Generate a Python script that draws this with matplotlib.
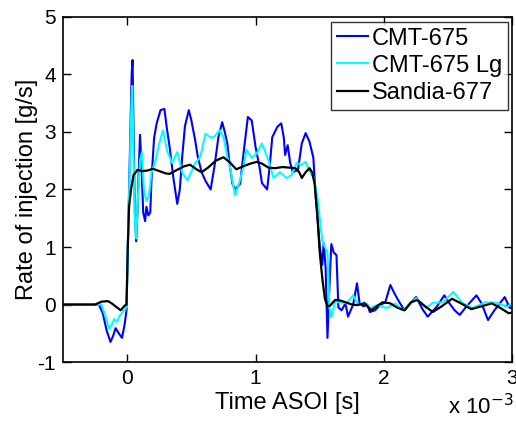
import matplotlib
matplotlib.use("Agg")
import matplotlib.pyplot as plt

plt.rcParams['font.family'] = ['Liberation Sans', 'DejaVu Sans']
plt.rcParams['axes.unicode_minus'] = False

# time in ms (axis shows seconds x 10^-3), rate in g/s
t_cmt = [-0.5, -0.22, -0.19, -0.16, -0.13, -0.11, -0.09, -0.065, -0.04, -0.02, -0.005,
         0.01, 0.025, 0.035, 0.042, 0.05, 0.06, 0.07, 0.08, 0.09, 0.10, 0.11, 0.125, 0.14,
         0.15, 0.165, 0.18, 0.19, 0.21, 0.23, 0.26, 0.29, 0.31, 0.33, 0.36, 0.39, 0.41, 0.43,
         0.45, 0.48, 0.50, 0.53, 0.55, 0.58, 0.61, 0.65, 0.68, 0.71, 0.74, 0.76, 0.78, 0.80,
         0.82, 0.84, 0.88, 0.91, 0.94, 0.97, 1.0, 1.03, 1.05, 1.09, 1.11, 1.13, 1.17, 1.20,
         1.22, 1.23, 1.25, 1.27, 1.29, 1.33, 1.36, 1.39, 1.42, 1.45, 1.47, 1.50, 1.52, 1.53,
         1.545, 1.56, 1.575, 1.59, 1.61, 1.63, 1.645, 1.67, 1.70, 1.72, 1.76, 1.79, 1.81, 1.84,
         1.87, 1.89, 1.93, 1.97, 2.01, 2.05, 2.08, 2.12, 2.16, 2.20, 2.25, 2.30, 2.34, 2.41,
         2.47, 2.51, 2.55, 2.59, 2.64, 2.72, 2.76, 2.81, 2.86, 2.94, 2.98, 3.0]
q_cmt = [0, 0, -0.15, -0.45, -0.65, -0.55, -0.41, -0.5, -0.58, -0.35, -0.1,
         1.5, 3.0, 4.0, 4.25, 3.0, 1.6, 1.1, 1.6, 2.3, 2.95, 2.5, 1.6, 1.45,
         1.7, 1.55, 1.6, 2.2, 2.9, 3.15, 3.38, 3.4, 3.05, 2.75, 2.2, 1.75, 2.0, 2.6,
         3.1, 3.38, 3.2, 2.85, 2.57, 2.3, 2.15, 2.0, 2.4, 2.9, 3.17, 3.0, 2.8, 2.4,
         2.1, 2.0, 2.1, 2.7, 3.26, 3.2, 2.74, 2.4, 2.11, 2.0, 2.4, 2.91, 3.09, 3.15,
         2.9, 2.6, 2.77, 2.46, 2.3, 2.34, 2.8, 2.98, 2.83, 2.55, 1.82, 1.0, 0.69, 1.07,
         0.66, -0.58, 0.3, 1.05, 0.9, 0.86, -0.05, -0.1, 0.02, -0.21, 0.0, 0.37, 0.02, -0.03,
         0.0, -0.13, -0.1, -0.01, 0.04, 0.34, 0.2, 0.04, -0.1, 0.0, 0.13, -0.08, -0.21, -0.04,
         0.16, 0.02, -0.1, -0.18, -0.04, 0.16, 0.02, -0.27, -0.1, 0.13, -0.06, -0.05]

t_lg = [-0.5, -0.2, -0.17, -0.14, -0.12, -0.10, -0.08, -0.06, -0.03, -0.005,
        0.01, 0.025, 0.035, 0.04, 0.05, 0.06, 0.07, 0.085, 0.10, 0.115, 0.13, 0.15, 0.17,
        0.19, 0.22, 0.25, 0.28, 0.31, 0.35, 0.39, 0.43, 0.47, 0.53, 0.57, 0.61, 0.65, 0.68,
        0.72, 0.75, 0.78, 0.80, 0.84, 0.87, 0.90, 0.93, 0.97, 1.01, 1.05, 1.1, 1.14, 1.19,
        1.24, 1.28, 1.32, 1.36, 1.39, 1.42, 1.45, 1.48, 1.50, 1.52, 1.54, 1.56, 1.575, 1.59,
        1.62, 1.66, 1.71, 1.76, 1.80, 1.85, 1.89, 1.95, 2.02, 2.09, 2.14, 2.2, 2.25, 2.33,
        2.38, 2.46, 2.54, 2.61, 2.69, 2.79, 2.88, 2.96, 3.0]
q_lg = [0, 0, -0.2, -0.42, -0.35, -0.25, -0.3, -0.2, -0.12, -0.05,
        1.5, 2.8, 3.6, 3.8, 2.6, 1.5, 1.15, 1.9, 2.5, 2.65, 2.0, 1.8, 1.9,
        2.3, 2.5, 2.8, 3.03, 2.68, 2.46, 2.65, 2.29, 2.16, 2.46, 2.57, 2.97, 2.9, 2.92,
        3.03, 2.91, 2.57, 2.4, 1.9, 2.1, 2.34, 2.69, 2.55, 2.63, 2.8, 2.51, 2.2, 2.3,
        2.2, 2.25, 2.46, 2.43, 2.48, 2.31, 2.22, 1.9, 1.5, 1.1, 1.0, 0.9, -0.05, -0.22,
        0.05, 0.04, 0.02, 0.16, -0.01, 0.04, -0.06, -0.01, -0.06, 0.02, -0.1, -0.01, 0.11, -0.06,
        0.03, 0.04, 0.22, 0.03, -0.06, 0.04, 0.03, -0.04, 0.03]

t_sandia = [-0.5, -0.25, -0.2, -0.15, -0.12, -0.08, -0.05, -0.02, -0.005,
            0.005, 0.015, 0.03, 0.05, 0.08, 0.12, 0.16, 0.2, 0.25, 0.3, 0.33, 0.38, 0.44,
            0.49, 0.54, 0.58, 0.63, 0.69, 0.75, 0.8, 0.85, 0.9, 0.96, 1.01, 1.05, 1.1, 1.15,
            1.21, 1.26, 1.31, 1.34, 1.36, 1.39, 1.42, 1.44, 1.46, 1.48, 1.50, 1.52, 1.54, 1.56,
            1.58, 1.62, 1.66, 1.70, 1.75, 1.79, 1.85, 1.9, 1.95, 1.99, 2.05, 2.1, 2.16, 2.21,
            2.26, 2.32, 2.38, 2.45, 2.53, 2.6, 2.68, 2.76, 2.84, 2.9, 2.97, 3.0]
q_sandia = [0, 0, 0.05, 0.06, 0.02, -0.05, -0.1, -0.02, 0.0,
            1.0, 1.7, 2.0, 2.25, 2.34, 2.32, 2.33, 2.36, 2.32, 2.28, 2.27, 2.33, 2.4,
            2.43, 2.35, 2.3, 2.38, 2.5, 2.56, 2.47, 2.35, 2.4, 2.45, 2.48, 2.45, 2.38, 2.37,
            2.39, 2.38, 2.37, 2.3, 2.2, 2.3, 2.37, 2.3, 2.1, 1.6, 0.9, 0.45, 0.1, -0.03,
            -0.02, 0.08, 0.07, 0.04, 0.0, -0.01, 0.02, -0.1, -0.02, 0.04, 0.02, -0.05, -0.1, 0.04,
            0.08, -0.03, -0.13, -0.03, 0.1, 0.02, -0.08, -0.03, 0.02, -0.05, -0.15, -0.14]

labels = ['CMT-675', 'CMT-675 Lg', 'Sandia-677']
xticks = [0, 1, 2, 3]
yticks = [-1, 0, 1, 2, 3, 4, 5]

fig = plt.figure(figsize=(5.16, 4.22), dpi=100)
ax = fig.add_axes([0.122, 0.142, 0.871, 0.818])

ax.plot(t_cmt, q_cmt, color='#0000ff', lw=1.5, label=labels[0])
ax.plot(t_lg, q_lg, color='#00ffff', lw=1.5, label=labels[1])
ax.plot(t_sandia, q_sandia, color='black', lw=1.6, label=labels[2])

ax.set_xlim(-0.5, 3)
ax.set_ylim(-1, 5)
ax.set_xticks(xticks)
ax.set_yticks(yticks)
ax.tick_params(direction='in', length=6, width=1, top=True, right=True, labelsize=15, pad=5)
for s in ax.spines.values():
    s.set_linewidth(1.2)

ax.set_xlabel('Time ASOI [s]', fontsize=17, labelpad=3)
ax.set_ylabel('Rate of injection [g/s]', fontsize=17, labelpad=0)
fig.text(0.868, 0.018, r'x 10$^{-3}$', fontsize=16)

leg = ax.legend(loc='upper right', fontsize=17, handlelength=1.3, frameon=True,
                fancybox=False, edgecolor='black', borderaxespad=0.2,
                borderpad=0.25, labelspacing=0.22, handletextpad=0.15)
leg.get_frame().set_linewidth(1.0)

fig.savefig('out.png', dpi=100)
